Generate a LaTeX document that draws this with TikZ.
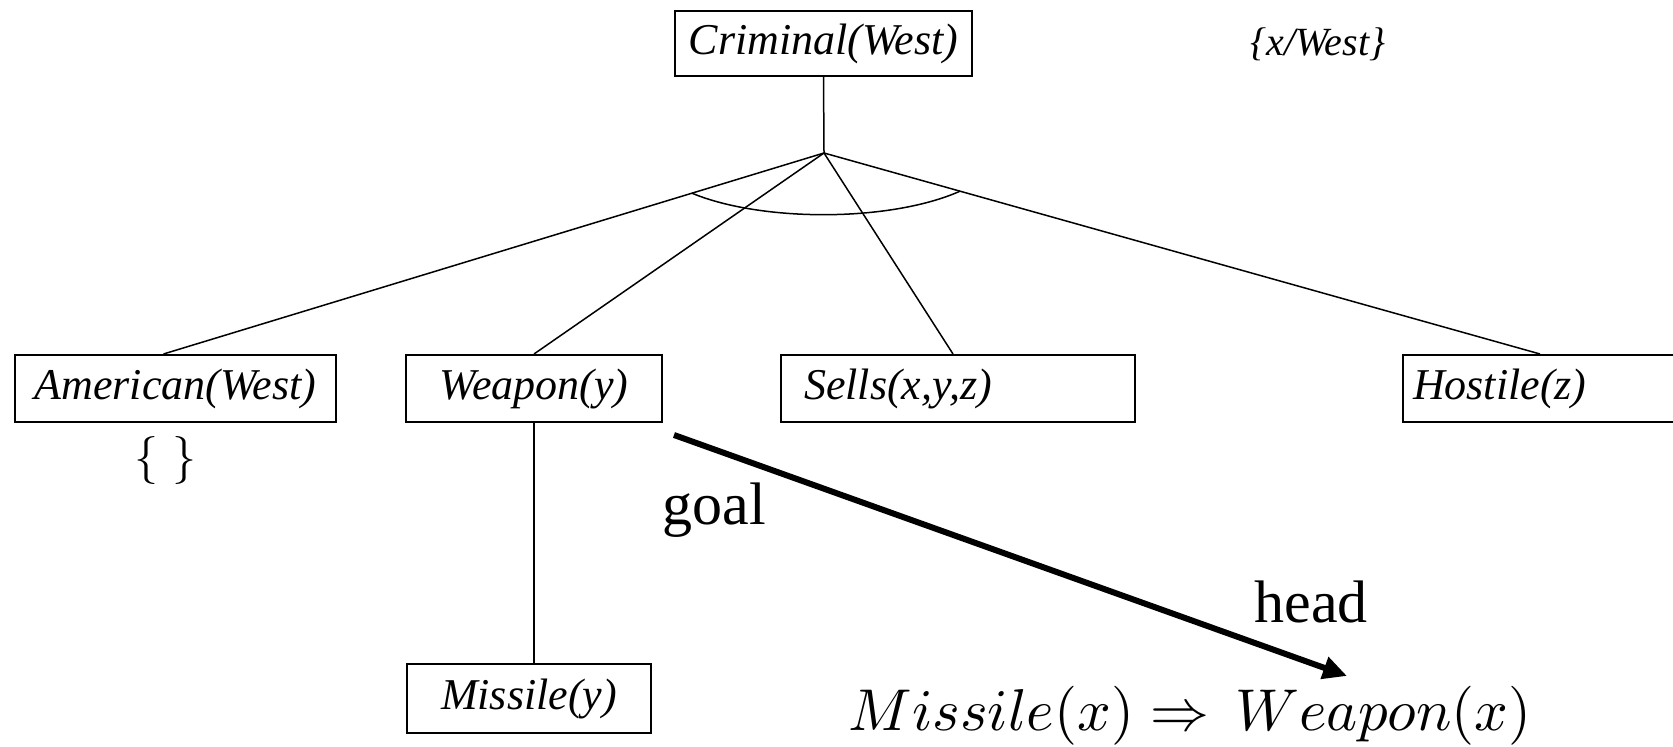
\documentclass[tikz,border=0pt]{standalone}
\usepackage{fontspec}
\setmainfont{Liberation Serif}
\usetikzlibrary{arrows.meta,calc}

\begin{document}
\begin{tikzpicture}[x=0.5pt,y=-0.5pt,
  box/.style={draw,line width=1pt,inner sep=0pt,minimum height=33.5pt,
    font=\fontsize{22}{26}\selectfont\itshape},
  link/.style={line width=0.75pt},
  bigword/.style={anchor=base west,inner sep=0pt,font=\fontsize{30}{36}\selectfont},
  goalarrow/.style={line width=3pt,-{Triangle[length=12pt,width=11pt]}}]

\fill[white] (0,0) rectangle (1673,747);
\clip (0,0) rectangle (1673,747);

% goal and the subgoals of the proof tree
\node[box,minimum width=148.5pt,minimum height=32.5pt] (crim) at (823.5,43.5) {Criminal(West)};
\node[anchor=west,inner sep=0pt,font=\fontsize{20}{24}\selectfont\itshape] (subst) at (1250,44) {\{x/West\}};

\node[box,minimum width=160.5pt] (amer) at (175.5,388.5) {American(West)};
\node[box,minimum width=128pt] (weap) at (534,388.5) {Weapon(y)};
\node[box,text width=154pt,align=left,inner xsep=11.5pt] (sells) at (958,388.5) {Sells(x,y,z)};
\node[box,text width=140pt,align=left,inner xsep=5pt] (host) at (1553,388.5) {Hostile(z)};
\node[box,minimum width=122pt,minimum height=34.5pt] (miss) at (529,698.5) {Missile(y)};

\node[inner sep=0pt,font=\normalsize,scale=2.4] (empty) at (165.5,461) {$\{\;\}$};

% and-node below the root
\coordinate (apex) at (824,153);
\coordinate (amerEnd) at ($(amer.north)+(-12,0)$);
\coordinate (sellsEnd) at ($(sells.north)+(-5,0)$);
\coordinate (hostEnd) at ($(host.north west)+(138,0)$);

\draw[link] (crim.south) -- (apex);
\draw[link] (apex) -- (amerEnd);
\draw[link] (apex) -- (weap.north);
\draw[link] (apex) -- (sellsEnd);
\draw[link] (apex) -- (hostEnd);

\coordinate (arcL) at ($(apex)!0.2!(amerEnd)$);
\coordinate (arcR) at ($(apex)!0.19!(hostEnd)$);
\draw[link] (arcL) .. controls ($(arcL)+(70,29)$) and ($(arcR)+(-70,31)$) .. (arcR);

\draw[link] (weap.south) -- (weap.south |- miss.north);

% rule used for the Weapon subgoal
\node[anchor=base,inner sep=0pt,font=\normalsize,scale=2.95] (rule) at (1190,730)
  {$Missile(x)\Rightarrow\,Weapon(x)$};

\coordinate (gs) at ($(weap.south east)+(11,12)$);
\coordinate (ge) at (1347,676);
\draw[goalarrow] (gs) -- (ge);

\node[bigword] (goal) at (662,524) {goal};
\node[bigword] (head) at (1254,622) {head};

\end{tikzpicture}
\end{document}
